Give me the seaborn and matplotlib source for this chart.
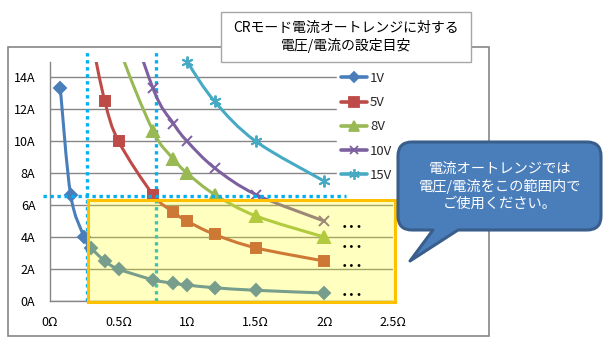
import numpy as np
import pandas as pd
import matplotlib
matplotlib.use("Agg")
import matplotlib.pyplot as plt
import seaborn as sns
from matplotlib.path import Path
from matplotlib.patches import PathPatch, Rectangle
from matplotlib.lines import Line2D

# ---------------- data ----------------
R_OHM = [0.075, 0.15, 0.25, 0.3, 0.4, 0.5, 0.75, 0.9, 1.0, 1.2, 1.5, 2.0]
I_1V = [13.33, 6.67, 4.0, 3.33, 2.5, 2.0, 1.33, 1.11, 1.0, 0.83, 0.67, 0.5]
I_5V = [66.7, 33.3, 20.0, 16.67, 12.5, 10.0, 6.67, 5.56, 5.0, 4.17, 3.33, 2.5]
I_8V = [106.7, 53.3, 32.0, 26.67, 20.0, 16.0, 10.67, 8.89, 8.0, 6.67, 5.33, 4.0]
I_10V = [133.3, 66.7, 40.0, 33.3, 25.0, 20.0, 13.33, 11.11, 10.0, 8.33, 6.67, 5.0]
I_15V = [200.0, 100.0, 60.0, 50.0, 37.5, 30.0, 20.0, 16.67, 15.0, 12.5, 10.0, 7.5]
SERIES_NAMES = ["1V", "5V", "8V", "10V", "15V"]
SERIES_VALUES = [I_1V, I_5V, I_8V, I_10V, I_15V]

X_TICKS = [0, 0.5, 1.0, 1.5, 2.0, 2.5]
X_TICK_LABELS = ["0Ω", "0.5Ω", "1Ω", "1.5Ω", "2Ω", "2.5Ω"]
Y_TICKS = [0, 2, 4, 6, 8, 10, 12, 14]
Y_TICK_LABELS = ["0A", "2A", "4A", "6A", "8A", "10A", "12A", "14A"]

GUIDE_R = [0.272, 0.77]      # vertical dotted guides
GUIDE_I = 6.56               # horizontal dotted guide
RANGE_BOX = (0.28, -0.05, 2.515, 6.3)   # recommended range (x0, y0, x1, y1)
DOT_LABEL_Y = [4.7, 3.45, 2.25, 0.45]
DOT_LABEL_R = 2.2

TITLE = "CRモード電流オートレンジに対する\n電圧/電流の設定目安"
CALLOUT = "電流オートレンジでは\n電圧/電流をこの範囲内で\nご使用ください。"

COLORS = ["#4A7EBB", "#BE4B48", "#98B954", "#7D60A0", "#46AAC5"]
MARKERS = ["D", "s", "^", "x", (6, 2, 0)]
MSIZES = [6, 7.5, 8, 7, 8.5]

# ---------------- style ----------------
sns.set_theme(style="white")
plt.rcParams["font.family"] = ["Noto Sans CJK JP", "DejaVu Sans"]

W, H = 613, 348
fig = plt.figure(figsize=(W / 100, H / 100), dpi=100)
fig.patch.set_facecolor("white")

ax = fig.add_axes([50 / W, 1 - 301 / H, 343 / W, 239.5 / H])
ax.set_facecolor("none")
ax.set_xlim(0, 2.5)
ax.set_ylim(0, 15)

grid_c = "#868686"
ax.set_yticks(Y_TICKS)
ax.set_yticklabels(Y_TICK_LABELS)
ax.set_xticks(X_TICKS)
ax.set_xticklabels(X_TICK_LABELS)
ax.yaxis.grid(True, color=grid_c, lw=1.0, zorder=0)
ax.xaxis.grid(False)
ax.set_axisbelow(True)
for s in ["top", "right"]:
    ax.spines[s].set_visible(False)
for s in ["left", "bottom"]:
    ax.spines[s].set_color(grid_c)
    ax.spines[s].set_linewidth(1.0)
ax.tick_params(axis="both", which="major", direction="out", length=3.5,
               width=1.0, color=grid_c, labelsize=9, labelcolor="black")
ax.tick_params(axis="y", pad=7)
ax.tick_params(axis="x", pad=7)

# ---------------- guide lines ----------------
guide_c = "#00B0F0"
for gx in GUIDE_R:
    ax.plot([gx, gx], [0, 15.6], color=guide_c, lw=2.4, ls=(0, (1, 1.1)),
            dash_capstyle="butt", clip_on=False, zorder=2)
ax.plot([-0.05, 2.16], [GUIDE_I, GUIDE_I], color=guide_c, lw=2.4,
        ls=(0, (1, 1.1)), dash_capstyle="butt", clip_on=False, zorder=6)


# ---------------- smoothed series lines ----------------
def smooth_path(xs, ys):
    pts = np.column_stack([xs, ys]).astype(float)
    n = len(pts)
    verts = [pts[0]]
    codes = [Path.MOVETO]
    for i in range(n - 1):
        p0 = pts[i - 1] if i > 0 else pts[i]
        p1 = pts[i]
        p2 = pts[i + 1]
        p3 = pts[i + 2] if i + 2 < n else pts[i + 1]
        c1 = p1 + (p2 - p0) / 6.0
        c2 = p2 - (p3 - p1) / 6.0
        verts += [c1, c2, p2]
        codes += [Path.CURVE4] * 3
    return Path(verts, codes)


rows = []
for name, vals in zip(SERIES_NAMES, SERIES_VALUES):
    for r, i in zip(R_OHM, vals):
        rows.append({"R": r, "I": i, "V": name})
df = pd.DataFrame(rows)

handles = []
for name, col, mk, ms in zip(SERIES_NAMES, COLORS, MARKERS, MSIZES):
    sub = df[df["V"] == name]
    patch = PathPatch(smooth_path(sub["R"], sub["I"]), facecolor="none",
                      edgecolor=col, lw=2.2, zorder=3, capstyle="round",
                      joinstyle="round")
    ax.add_patch(patch)
    vis = sub[sub["I"] <= 15.01]
    sns.lineplot(data=vis, x="R", y="I", ax=ax, color=col, marker=mk,
                 markersize=ms, markeredgecolor=col, markerfacecolor=col,
                 markeredgewidth=1.4, linestyle="", clip_on=False,
                 zorder=4, legend=False, errorbar=None, sort=False)
    handles.append(Line2D([0], [0], color=col, lw=2.6, marker=mk,
                          markersize=ms * 0.9, markeredgecolor=col,
                          markerfacecolor=col, markeredgewidth=1.3))
ax.set_xlabel("")
ax.set_ylabel("")

# ---------------- recommended range box ----------------
bx0, by0, bx1, by1 = RANGE_BOX
ax.add_patch(Rectangle((bx0, by0), bx1 - bx0, by1 - by0, facecolor="#FFFF00",
                       alpha=0.25, edgecolor="none", zorder=5, clip_on=False))
ax.add_patch(Rectangle((bx0, by0), bx1 - bx0, by1 - by0, facecolor="none",
                       edgecolor="#FFC000", lw=2.2, zorder=5.5, clip_on=False))
for y in DOT_LABEL_Y:
    ax.text(DOT_LABEL_R, y, "･･･", ha="center", va="center", fontsize=11,
            fontweight="bold", color="black", zorder=7)

# ---------------- legend ----------------
leg = ax.legend(handles, SERIES_NAMES, loc="upper left",
                bbox_to_anchor=(337 / W, 1 - 68 / H),
                bbox_transform=fig.transFigure, frameon=True, fancybox=False,
                facecolor="white", edgecolor="white", framealpha=1,
                fontsize=9.5, handlelength=2.0, handletextpad=0.2,
                labelspacing=0.85, borderpad=0.3, borderaxespad=0)
leg.set_zorder(8)

# ---------------- overlay: frame, title box, callout ----------------
ov = fig.add_axes([0, 0, 1, 1])
ov.set_xlim(0, W)
ov.set_ylim(H, 0)
ov.axis("off")

ov.add_patch(Rectangle((8, 47), 481, 289, facecolor="none",
                       edgecolor="#868686", lw=1.2, zorder=1))
ov.add_patch(Rectangle((221, 12), 250, 50, facecolor="white",
                       edgecolor="#A6A6A6", lw=1.0, zorder=2))
ov.text(346, 37, TITLE, ha="center", va="center", fontsize=10,
        color="black", linespacing=1.25, zorder=3)

x0, x1, y0, y1, rr = 398, 601, 142, 230, 14
bxa, bxb = 433, 458
tip = (410, 261)
verts = [(x0 + rr, y0), (x1 - rr, y0), (x1, y0), (x1, y0 + rr),
         (x1, y1 - rr), (x1, y1), (x1 - rr, y1),
         (bxb, y1), tip, (bxa, y1), (x0 + rr, y1),
         (x0, y1), (x0, y1 - rr), (x0, y0 + rr), (x0, y0), (x0 + rr, y0),
         (x0 + rr, y0)]
codes = [Path.MOVETO, Path.LINETO, Path.CURVE3, Path.CURVE3,
         Path.LINETO, Path.CURVE3, Path.CURVE3,
         Path.LINETO, Path.LINETO, Path.LINETO, Path.LINETO,
         Path.CURVE3, Path.CURVE3, Path.LINETO, Path.CURVE3, Path.CURVE3,
         Path.CLOSEPOLY]
ov.add_patch(PathPatch(Path(verts, codes), facecolor="#4A7EBB",
                       edgecolor="#3A5E8C", lw=2.2, zorder=4,
                       joinstyle="round"))
ov.text(500, 186, CALLOUT, ha="center", va="center", fontsize=10.3,
        color="white", linespacing=1.25, zorder=5)

fig.savefig("out.png", dpi=100, facecolor="white")
